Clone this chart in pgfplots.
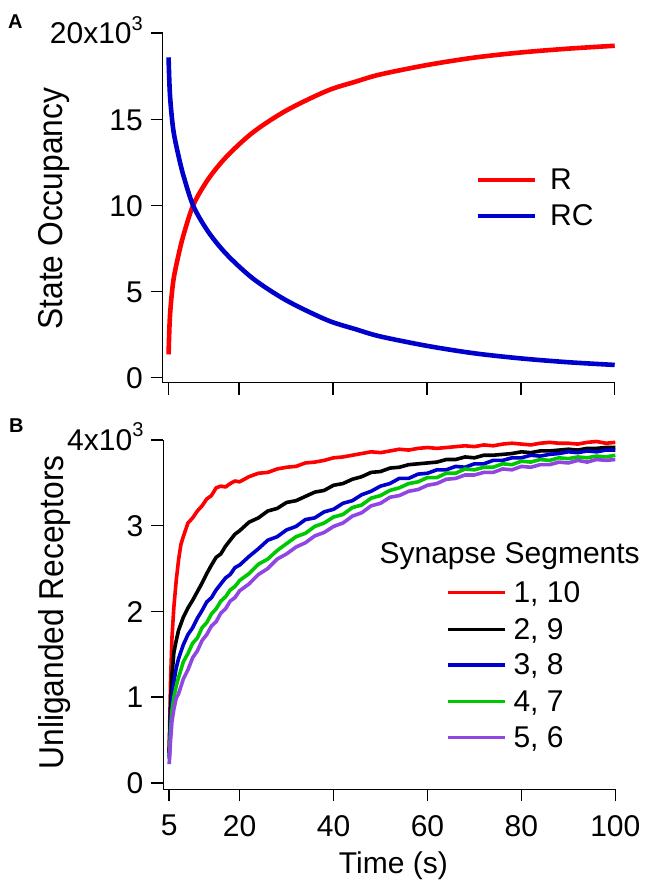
\documentclass[border=0pt]{standalone}
\usepackage{fontspec}
\setmainfont{Liberation Sans}
\usepackage{graphicx}
\usepackage{pgfplots}
\pgfplotsset{compat=1.18}

\definecolor{cR}{RGB}{255,0,0}
\definecolor{cB}{RGB}{0,0,204}
\definecolor{cG}{RGB}{0,200,0}
\definecolor{cP}{RGB}{145,70,225}

\newcommand{\supthree}{\raisebox{0.45em}{\fontsize{20bp}{20bp}\selectfont 3}}
\newcommand{\ylab}[1]{\scalebox{0.92}[1]{#1}}

\pgfplotsset{
  panel/.style={
    scale only axis,
    anchor=south west,
    width=452bp, height=349.5bp,
    axis x line*=bottom, axis y line*=left,
    axis line style={line width=1.5bp, black},
    tick style={line width=1.5bp, black},
    major tick length=12bp,
    tick align=outside,
    xmin=3.75, xmax=100,
    xtick={5,20,40,60,80,100},
    clip=false,
    yticklabel style={anchor=base east, inner sep=0pt, xshift=-7.7bp, yshift=-10.7bp},
    xticklabel style={anchor=north, inner sep=0pt, yshift=-13.7bp},
    every axis y label/.style={at={(axis description cs:-0.2405,0.5)}, anchor=center, rotate=90,
      font=\fontsize{34.5bp}{40bp}\selectfont},
    every axis x label/.style={at={(axis description cs:0.509,-0.2405)}, anchor=base},
  },
}

% panel A: state occupancy (x1000)
\pgfplotstableread{
t rc
5.0 18.6
5.3 16.4
6.0 14.4
7.1 12.9
8.2 11.7
10.3 9.95
13.5 8.45
17.4 7.15
23.0 5.75
30.0 4.5
38.7 3.35
45 2.8
50 2.4
60 1.85
70 1.42
80 1.12
90 0.9
100 0.74
}\occRC
\pgfplotstableread{
t r
5.0 1.35
5.3 3.6
6.0 5.6
7.1 7.1
8.2 8.3
10.3 10.05
13.5 11.55
17.4 12.85
23.0 14.25
30.0 15.5
38.7 16.65
45 17.2
50 17.6
60 18.15
70 18.58
80 18.88
90 19.1
100 19.27
}\occR

\begin{document}
\fontsize{30bp}{36bp}\selectfont
\begin{tikzpicture}
\path[use as bounding box] (0,0) rectangle (648bp,882bp);

\node[anchor=base west, inner sep=0, font=\bfseries\fontsize{20bp}{20bp}\selectfont] at (8bp,853bp) {A};
\node[anchor=base west, inner sep=0, font=\bfseries\fontsize{20bp}{20bp}\selectfont] at (9bp,449bp) {B};

\begin{axis}[panel,
  at={(162.7bp,499.3bp)},
  ymin=-0.29, ymax=20,
  ytick={0,5,10,15,20},
  yticklabels={0,5,10,15,{20x10\supthree}},
  xticklabels={},
  ylabel={\ylab{State Occupancy}},
  every axis y label/.append style={at={(axis description cs:-0.2405,0.498)}},
]
\addplot[cR, line width=4.6bp, smooth] table[x=t, y=r] {\occR};
\addplot[cB, line width=4.6bp, smooth] table[x=t, y=rc] {\occRC};
\draw[cR, line width=4bp] (axis cs:70.83,11.47) -- (axis cs:83.03,11.47);
\draw[cB, line width=4bp] (axis cs:70.83,9.38) -- (axis cs:83.03,9.38);
\node[anchor=base west, inner sep=0] at (axis cs:86.2,10.93) {R};
\node[anchor=base west, inner sep=0] at (axis cs:86.2,8.86) {RC};
\end{axis}

\begin{axis}[panel,
  at={(163.3bp,92.7bp)},
  ymin=-0.073, ymax=4,
  ytick={0,1,2,3,4},
  yticklabels={0,1,2,3,{4x10\supthree}},
  xticklabels={5,20,40,60,80,100},
  ylabel={\ylab{Unliganded Receptors}},
  every axis y label/.append style={at={(axis description cs:-0.2405,0.506)}},
  xlabel={Time (s)},
  every axis plot/.append style={line width=3.6bp, line join=round},
]
\addplot[cR] coordinates {
(5.0,0.35) (5.3,1.2) (5.6,1.7) (6.0,2.05) (6.5,2.36) (7.0,2.6) (7.5,2.78) (8.0,2.87)
(9.0,3.03) (10,3.09) (11,3.17) (12,3.23) (13,3.31) (14,3.35) (15,3.44) (16,3.46)
(17,3.45) (18,3.49) (19,3.52) (20,3.51) (22,3.57) (24,3.61) (26,3.62) (28,3.66)
(30,3.68) (32,3.69) (34,3.73) (36,3.74) (38,3.76) (40,3.79) (42,3.80) (44,3.82)
(46,3.84) (48,3.86) (50,3.85) (52,3.87) (54,3.89) (56,3.88) (58,3.90) (60,3.91)
(62,3.90) (64,3.91) (66,3.92) (68,3.93) (70,3.92) (72,3.94) (74,3.93) (76,3.95)
(78,3.96) (80,3.95) (82,3.94) (84,3.96) (86,3.97) (88,3.96) (90,3.96) (92,3.95)
(94,3.97) (96,3.98) (98,3.96) (100,3.97)
};
\addplot[black] coordinates {
(5.0,0.35) (5.3,0.9) (5.6,1.25) (6.0,1.52) (6.5,1.66) (7.0,1.78) (8.0,1.93) (9.0,2.04)
(10,2.13) (11,2.23) (12,2.33) (13,2.44) (14,2.54) (15,2.63) (16,2.67) (17,2.76)
(18,2.83) (19,2.90) (20,2.94) (22,3.04) (24,3.09) (26,3.17) (28,3.20) (30,3.27)
(32,3.29) (34,3.34) (36,3.39) (38,3.41) (40,3.47) (42,3.49) (44,3.54) (46,3.57)
(48,3.62) (50,3.63) (52,3.67) (54,3.68) (56,3.71) (58,3.72) (60,3.73) (62,3.74)
(64,3.77) (66,3.77) (68,3.80) (70,3.79) (72,3.82) (74,3.82) (76,3.83) (78,3.84)
(80,3.86) (82,3.85) (84,3.87) (86,3.87) (88,3.88) (90,3.89) (92,3.88) (94,3.90)
(96,3.90) (98,3.91) (100,3.91)
};
\addplot[cB] coordinates {
(5.0,0.3) (5.3,0.75) (5.6,1.0) (6.0,1.18) (6.5,1.34) (7.0,1.45) (8.0,1.61) (9.0,1.73)
(10,1.81) (11,1.92) (12,2.01) (13,2.11) (14,2.16) (15,2.25) (16,2.32) (17,2.39)
(18,2.43) (19,2.51) (20,2.54) (22,2.64) (24,2.73) (26,2.83) (28,2.87) (30,2.95)
(32,2.99) (34,3.07) (36,3.09) (38,3.16) (40,3.19) (42,3.26) (44,3.29) (46,3.36)
(48,3.40) (50,3.46) (52,3.49) (54,3.55) (56,3.55) (58,3.60) (60,3.61) (62,3.65)
(64,3.65) (66,3.69) (68,3.68) (70,3.72) (72,3.72) (74,3.76) (76,3.76) (78,3.79)
(80,3.79) (82,3.82) (84,3.81) (86,3.83) (88,3.84) (90,3.86) (92,3.85) (94,3.87)
(96,3.86) (98,3.88) (100,3.88)
};
\addplot[cG] coordinates {
(5.0,0.28) (5.3,0.62) (5.6,0.85) (6.0,1.0) (6.5,1.13) (7.0,1.23) (8.0,1.41) (9.0,1.51)
(10,1.63) (11,1.69) (12,1.81) (13,1.87) (14,1.97) (15,2.03) (16,2.12) (17,2.17)
(18,2.25) (19,2.29) (20,2.36) (22,2.44) (24,2.55) (26,2.61) (28,2.71) (30,2.79)
(32,2.87) (34,2.91) (36,2.99) (38,3.03) (40,3.10) (42,3.13) (44,3.21) (46,3.24)
(48,3.32) (50,3.35) (52,3.41) (54,3.44) (56,3.49) (58,3.51) (60,3.56) (62,3.56)
(64,3.61) (66,3.61) (68,3.66) (70,3.65) (72,3.68) (74,3.68) (76,3.72) (78,3.71)
(80,3.75) (82,3.74) (84,3.77) (86,3.76) (88,3.79) (90,3.78) (92,3.80) (94,3.79)
(96,3.81) (98,3.80) (100,3.82)
};
\addplot[cP] coordinates {
(5.0,0.22) (5.3,0.5) (5.6,0.72) (6.0,0.86) (6.5,0.99) (7.0,1.04) (8.0,1.21) (9.0,1.32)
(10,1.46) (11,1.54) (12,1.66) (13,1.73) (14,1.83) (15,1.88) (16,1.98) (17,2.03)
(18,2.12) (19,2.16) (20,2.24) (22,2.32) (24,2.43) (26,2.50) (28,2.61) (30,2.67)
(32,2.75) (34,2.80) (36,2.88) (38,2.92) (40,2.99) (42,3.03) (44,3.11) (46,3.15)
(48,3.23) (50,3.26) (52,3.33) (54,3.35) (56,3.40) (58,3.42) (60,3.47) (62,3.49)
(64,3.54) (66,3.55) (68,3.59) (70,3.59) (72,3.62) (74,3.62) (76,3.66) (78,3.65)
(80,3.69) (82,3.68) (84,3.71) (86,3.71) (88,3.74) (90,3.73) (92,3.76) (94,3.74)
(96,3.77) (98,3.76) (100,3.77)
};
\node[anchor=base east, inner sep=0] at (axis cs:105.25,2.562) {Synapse Segments};
\draw[cR, line width=3.4bp] (axis cs:64.44,2.219) -- (axis cs:76.51,2.219);
\draw[black, line width=3.4bp] (axis cs:64.44,1.792) -- (axis cs:76.51,1.792);
\draw[cB, line width=3.4bp] (axis cs:64.44,1.376) -- (axis cs:76.51,1.376);
\draw[cG, line width=3.4bp] (axis cs:64.44,0.948) -- (axis cs:76.51,0.948);
\draw[cP, line width=3.4bp] (axis cs:64.44,0.528) -- (axis cs:76.51,0.528);
\node[anchor=base west, inner sep=0] at (axis cs:78.28,2.103) {1, 10};
\node[anchor=base west, inner sep=0] at (axis cs:78.28,1.676) {2, 9};
\node[anchor=base west, inner sep=0] at (axis cs:78.28,1.260) {3, 8};
\node[anchor=base west, inner sep=0] at (axis cs:78.28,0.832) {4, 7};
\node[anchor=base west, inner sep=0] at (axis cs:78.28,0.412) {5, 6};
\end{axis}
\end{tikzpicture}
\end{document}
